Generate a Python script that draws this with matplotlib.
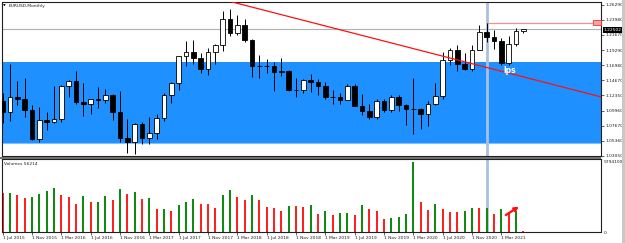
import matplotlib
matplotlib.use('Agg')
import matplotlib.pyplot as plt
import numpy as np
from matplotlib.patches import Rectangle, FancyArrowPatch

# ---------------- data (EURUSD monthly, Jul 2015 .. Jun 2021) ----------------
opens = [1.1146, 1.0984, 1.1211, 1.1177, 1.1004, 1.0565,
         1.0860, 1.0831, 1.0872, 1.1380, 1.1454, 1.1130, 1.1103, 1.1174, 1.1157, 1.1240, 1.0980, 1.0588,
         1.0517, 1.0797, 1.0575, 1.0652, 1.0895, 1.1243, 1.1426, 1.1838, 1.1906, 1.1813, 1.1645, 1.1903,
         1.2005, 1.2414, 1.2192, 1.2323, 1.2078, 1.1693, 1.1683, 1.1690, 1.1602, 1.1604, 1.1312, 1.1317,
         1.1467, 1.1446, 1.1372, 1.1217, 1.1213, 1.1170, 1.1372, 1.1077, 1.0989, 1.0898, 1.1150, 1.1016,
         1.1213, 1.1093, 1.1026, 1.1031, 1.0955, 1.1099, 1.1232, 1.1777, 1.1935, 1.1721, 1.1646, 1.1925,
         1.2215, 1.2136, 1.2075, 1.1730, 1.2019, 1.2226]
highs = [1.1278, 1.1714, 1.1460, 1.1495, 1.1095, 1.1059,
         1.0986, 1.1376, 1.1398, 1.1464, 1.1616, 1.1428, 1.1186, 1.1366, 1.1327, 1.1260, 1.1300, 1.0875,
         1.0808, 1.0829, 1.0906, 1.0950, 1.1268, 1.1445, 1.1846, 1.2070, 1.2092, 1.1880, 1.1961, 1.2023,
         1.2537, 1.2556, 1.2476, 1.2414, 1.2096, 1.1852, 1.1791, 1.1745, 1.1815, 1.1625, 1.1500, 1.1486,
         1.1570, 1.1489, 1.1448, 1.1324, 1.1265, 1.1412, 1.1412, 1.1249, 1.1109, 1.1179, 1.1175, 1.1239,
         1.1239, 1.1096, 1.1495, 1.1038, 1.1147, 1.1422, 1.1908, 1.1966, 1.2011, 1.1881, 1.2004, 1.2310,
         1.2349, 1.2243, 1.2113, 1.2150, 1.2266, 1.2254]
lows = [1.0809, 1.0848, 1.1087, 1.0896, 1.0558, 1.0524,
        1.0710, 1.0810, 1.0822, 1.1217, 1.1098, 1.0912, 1.0952, 1.1045, 1.1123, 1.0852, 1.0518, 1.0352,
        1.0340, 1.0494, 1.0495, 1.0570, 1.0839, 1.1118, 1.1312, 1.1690, 1.1717, 1.1575, 1.1554, 1.1718,
        1.1916, 1.2154, 1.2155, 1.2055, 1.1510, 1.1508, 1.1575, 1.1301, 1.1526, 1.1302, 1.1216, 1.1269,
        1.1289, 1.1234, 1.1176, 1.1110, 1.1107, 1.1181, 1.1101, 1.0927, 1.0879, 1.0879, 1.0981, 1.0981,
        1.1000, 1.0778, 1.0636, 1.0727, 1.0766, 1.1093, 1.1185, 1.1695, 1.1612, 1.1622, 1.1603, 1.1925,
        1.2054, 1.1952, 1.1704, 1.1704, 1.1986, 1.2200]
closes = [1.0984, 1.1211, 1.1177, 1.1004, 1.0565, 1.0860,
          1.0831, 1.0872, 1.1380, 1.1454, 1.1130, 1.1103, 1.1174, 1.1157, 1.1240, 1.0980, 1.0588, 1.0517,
          1.0797, 1.0575, 1.0652, 1.0895, 1.1243, 1.1426, 1.1838, 1.1906, 1.1813, 1.1645, 1.1903, 1.2005,
          1.2414, 1.2192, 1.2323, 1.2078, 1.1693, 1.1683, 1.1690, 1.1602, 1.1604, 1.1312, 1.1317, 1.1467,
          1.1446, 1.1372, 1.1217, 1.1213, 1.1170, 1.1372, 1.1077, 1.0989, 1.0898, 1.1150, 1.1016, 1.1213,
          1.1093, 1.1026, 1.1031, 1.0955, 1.1099, 1.1232, 1.1777, 1.1935, 1.1721, 1.1646, 1.1925, 1.2215,
          1.2136, 1.2075, 1.1730, 1.2019, 1.2226, 1.2250]
volumes = [3228000, 3261000, 3038000, 2814000, 2897000, 3121000,
           3369000, 3617000, 3038000, 2872000, 2293000, 3013000, 2458000, 2483000, 2955000, 2624000, 3559000, 3178000,
           3311000, 2732000, 2789000, 1879000, 1904000, 1713000, 2210000, 2516000, 2732000, 2351000, 2293000, 1987000,
           3038000, 3452000, 2897000, 2649000, 3038000, 2624000, 2045000, 2020000, 1713000, 2185000, 2152000, 2069000,
           2210000, 1490000, 1713000, 1382000, 1548000, 1573000, 1440000, 2210000, 1879000, 1713000, 1109000, 1159000,
           1242000, 1490000, 5794100, 2483000, 1854000, 2318000, 1904000, 1655000, 1639000, 1713000, 1962000, 1945000,
           1970000, 1490000, 1904000, 1655000, 1738000, 56214]
tick_labels = ["1 Jul 2015", "1 Nov 2015", "1 Mar 2016", "1 Jul 2016", "1 Nov 2016", "1 Mar 2017",
               "1 Jul 2017", "1 Nov 2017", "1 Mar 2018", "1 Jul 2018", "1 Nov 2018", "1 Mar 2019",
               "1 Jul 2019", "1 Nov 2019", "1 Mar 2020", "1 Jul 2020", "1 Nov 2020", "1 Mar 2021"]
price_ticks = [1.26290, 1.23980, 1.21670, 1.19290, 1.16980, 1.14670, 1.12350, 1.09960, 1.07670, 1.05360, 1.03050]
zone_low, zone_high = 1.0501, 1.1748
bid_price = 1.22502
alert_price = 1.2347
trend_x = [31.28, 81.59]
trend_y = [1.2669, 1.1213]
marker_month = 66
vol_max_label = 5794100
symbol_title = "EURUSD,Monthly"
vol_title = "Volumes 56214"

# ---------------- layout ----------------
W, H = 625, 243
fig = plt.figure(figsize=(W / 100, H / 100), dpi=100)
fig.patch.set_facecolor('white')

def frect(x0, y0, x1, y1):
    return [x0 / W, 1 - y1 / H, (x1 - x0) / W, (y1 - y0) / H]

ax = fig.add_axes(frect(2, 2, 601, 156))
axv = fig.add_axes(frect(2, 159, 601, 232))

n = len(opens)
x = np.arange(n)
o = np.array(opens); c = np.array(closes); hi = np.array(highs); lo = np.array(lows)

XL = (-0.0955, 81.59)
for a in (ax, axv):
    a.set_xlim(*XL)
    a.set_facecolor('white')
    for s in a.spines.values():
        s.set_color('#202020')
        s.set_linewidth(0.8)
ax.set_ylim(1.03094, 1.26688)

# zone
ax.add_patch(Rectangle((XL[0], zone_low), XL[1] - XL[0], zone_high - zone_low,
                       facecolor='#1e90ff', edgecolor='none', zorder=0))
ax.axhline(zone_low, color='#7fc0ff', lw=0.8, zorder=0.5)
# bid line
ax.axhline(bid_price, color='#b0b0b0', lw=0.8, zorder=0.6)
# vertical marker line
ax.axvline(marker_month, color='#a9c0e2', lw=2.0, zorder=0.7)
axv.axvline(marker_month, color='#a9c0e2', lw=2.0, zorder=0.7)
# alert line
ax.plot([marker_month, 80.5], [alert_price, alert_price], color='#f09090', lw=0.9, zorder=0.8)

# candles
up = c >= o
ax.vlines(x, lo, hi, color='black', lw=0.7, zorder=2)
body_bot = np.minimum(o, c)
body_h = np.maximum(np.abs(c - o), 0.0002)
ax.bar(x, body_h, bottom=body_bot, width=0.62,
       color=np.where(up, 'white', 'black'), edgecolor='black', linewidth=0.6, zorder=3)

# trend line
ax.plot(trend_x, trend_y, color='#ff1010', lw=0.9, zorder=4)
ax.text(68.3, 1.1615, 'lps', color='white', fontsize=5.5, fontweight='bold',
        ha='left', va='center', zorder=5)

# price axis
ax.yaxis.tick_right()
ax.set_yticks(price_ticks)
ax.set_yticklabels([f"{p:.5f}" for p in price_ticks])
ax.tick_params(axis='y', labelsize=3.2, length=2, width=0.5, pad=1, colors='#202020')
ax.set_xticks([])

# volume bars
vol = np.array(volumes, dtype=float)
vcol = ['#ff2020'] + ['#108a10' if vol[i] > vol[i - 1] else '#ff2020' for i in range(1, n)]
axv.bar(x, vol, width=0.28, color=vcol, zorder=2)
axv.set_ylim(0, 6.04e6)
axv.yaxis.tick_right()
axv.set_yticks([0, vol_max_label])
axv.set_yticklabels(['0', str(vol_max_label)])
axv.tick_params(axis='y', labelsize=3.2, length=0, pad=2, colors='#202020')
tick_pos = np.arange(0, n, 4)[:len(tick_labels)]
axv.set_xticks(tick_pos)
axv.set_xticklabels(tick_labels)
axv.tick_params(axis='x', labelsize=3.2, length=2, width=0.5, pad=1, colors='#202020')
for lab in axv.get_xticklabels():
    lab.set_ha('left')

arrow = FancyArrowPatch((68.6, 1.40e6), (70.4, 2.10e6), arrowstyle='-|>', mutation_scale=6,
                        color='#ff1010', lw=1.6, shrinkA=0, shrinkB=0, zorder=5)
axv.add_patch(arrow)

# titles
fig.text(3 / W, 1 - 6 / H, '\u25BC', fontsize=2.5, va='center', ha='left', color='black')
fig.text(9 / W, 1 - 6 / H, symbol_title, fontsize=3.2, va='center', ha='left', color='#202020')
fig.text(4 / W, 1 - 164 / H, vol_title, fontsize=3.2, va='center', ha='left', color='#202020')

# bid price box
fig.patches.append(Rectangle((603 / W, 1 - 33 / H), 19 / W, 5.5 / H, transform=fig.transFigure,
                             facecolor='black', edgecolor='none', zorder=10))
fig.text(604 / W, 1 - 30.2 / H, f"{bid_price:.5f}", fontsize=3.2, color='white', va='center', ha='left', zorder=11)
# alert box
fig.patches.append(Rectangle((593 / W, 1 - 25.5 / H), 8 / W, 5 / H, transform=fig.transFigure,
                             facecolor='#f4a4a4', edgecolor='#ff3030', lw=0.6, zorder=10))
# separator and right strip
fig.patches.append(Rectangle((0, 1 - 158.5 / H), 601 / W, 2 / H, transform=fig.transFigure,
                             facecolor='#707070', edgecolor='none', zorder=9))
fig.patches.append(Rectangle((622 / W, 0), 3 / W, 1, transform=fig.transFigure,
                             facecolor='#c8c8c8', edgecolor='none', zorder=9))

fig.savefig('out.png', dpi=100)
